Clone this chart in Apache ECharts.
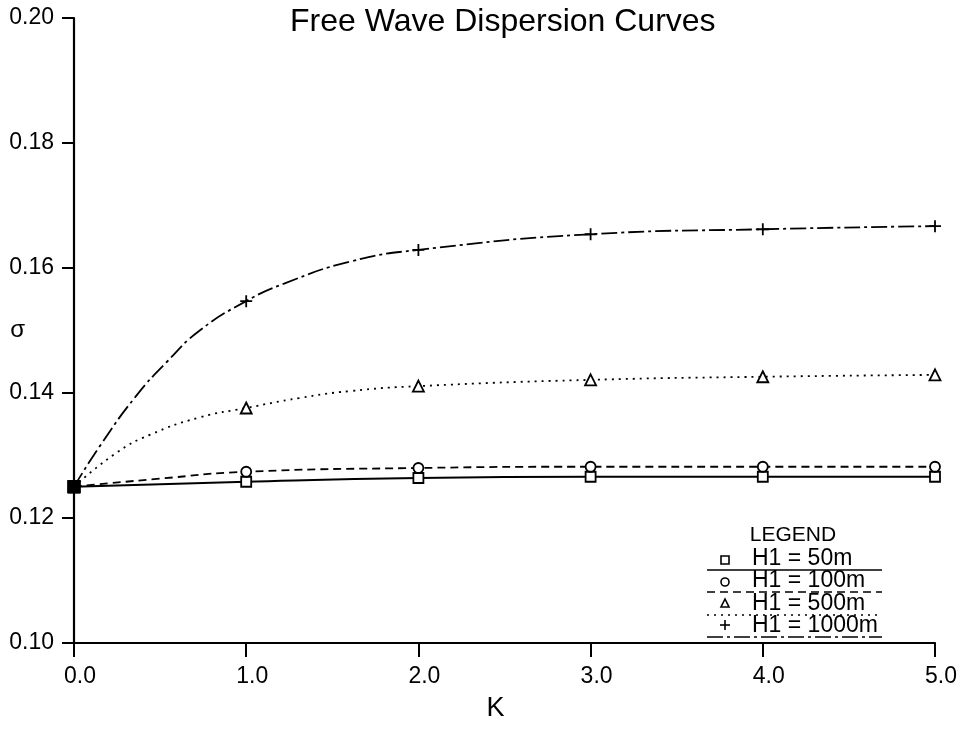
<!DOCTYPE html>
<html>
<head>
<meta charset="utf-8">
<script src="https://cdn.jsdelivr.net/npm/echarts@6/dist/echarts.min.js"></script>
<style>
html,body{margin:0;padding:0;background:#fff;}
#chart{width:967px;height:730px;}
</style>
</head>
<body>
<div id="chart"></div>
<script>
// ---- data ----
// points with an integer K carry a marker; the others are curve positions
var k50    = [0, 1, 2, 3, 4, 5];
var s50    = [0.1250, 0.1258, 0.1264, 0.1266, 0.1266, 0.1266];
var k100   = [0, 0.5, 1, 2, 3, 4, 5];
var s100   = [0.1250, 0.1263, 0.1274, 0.1280, 0.1282, 0.1282, 0.1282];
var k500   = [0, 0.25, 0.44, 0.73, 1, 1.31, 1.60, 2, 3, 4, 5];
var s500   = [0.1250, 0.1305, 0.1333, 0.1361, 0.1376, 0.1392, 0.1403, 0.1411, 0.1421, 0.1426, 0.1429];
var k1000  = [0, 0.15, 0.36, 0.54, 0.73, 1, 1.22, 1.60, 2, 3, 4, 5];
var s1000  = [0.1250, 0.1315, 0.1395, 0.1450, 0.1500, 0.1547, 0.1575, 0.1610, 0.1629, 0.1654, 0.1662, 0.1667];
var seriesNames = ['H1 = 50m', 'H1 = 100m', 'H1 = 500m', 'H1 = 1000m'];
var xTickLabels = ['0.0', '1.0', '2.0', '3.0', '4.0', '5.0'];
var yTickLabels = ['0.10', '0.12', '0.14', '0.16', '0.18', '0.20'];

var FONT = 'Liberation Sans';
var plusPath = 'path://M5,0L5,10M0,5L10,5';
var symbols = ['rect', 'circle', 'triangle', plusPath];
var dashes = ['solid', [8, 5], [2, 5], [16, 4, 3, 4]];
var kList = [k50, k100, k500, k1000];
var sList = [s50, s100, s500, s1000];

function buildData(ks, vals) {
  return ks.map(function (k, i) {
    if (k === 0) {
      return { value: [k, vals[i]], symbol: 'rect', symbolSize: 11, itemStyle: { color: '#000' } };
    }
    if (k !== Math.round(k)) {
      return { value: [k, vals[i]], symbol: 'none' };
    }
    return [k, vals[i]];
  });
}

var series = sList.map(function (vals, s) {
  return {
    name: seriesNames[s],
    type: 'line',
    smooth: 0.5,
    data: buildData(kList[s], vals),
    symbol: symbols[s],
    symbolSize: s === 2 ? 11 : (s === 3 ? 12 : 10),
    showAllSymbol: true,
    lineStyle: { color: '#000', width: 1.8, type: dashes[s] },
    itemStyle: { color: '#fff', borderColor: '#000', borderWidth: 1.8 },
    z: 3 + s,
    animation: false
  };
});

// legend drawn as graphics (text with underline in the series' line style)
var lg = [];
lg.push({ type: 'text', style: { x: 793, y: 535, text: 'LEGEND', font: '21px "' + FONT + '"', fill: '#000', textAlign: 'center', textVerticalAlign: 'middle' } });
var rowY = [560, 582, 603, 625];
var lineY = [570, 592, 615, 637];
for (var r = 0; r < 4; r++) {
  var sy = rowY[r];
  if (r === 0) lg.push({ type: 'rect', shape: { x: 721, y: sy - 4, width: 8, height: 8 }, style: { fill: '#fff', stroke: '#000', lineWidth: 1.6 } });
  if (r === 1) lg.push({ type: 'circle', shape: { cx: 725, cy: sy, r: 4 }, style: { fill: '#fff', stroke: '#000', lineWidth: 1.6 } });
  if (r === 2) lg.push({ type: 'polygon', shape: { points: [[725, sy - 4], [721, sy + 4], [729, sy + 4]] }, style: { fill: '#fff', stroke: '#000', lineWidth: 1.6 } });
  if (r === 3) {
    lg.push({ type: 'line', shape: { x1: 720, y1: sy, x2: 730, y2: sy }, style: { stroke: '#000', lineWidth: 1.6 } });
    lg.push({ type: 'line', shape: { x1: 725, y1: sy - 5, x2: 725, y2: sy + 5 }, style: { stroke: '#000', lineWidth: 1.6 } });
  }
  lg.push({ type: 'text', style: { x: 752, y: lineY[r] - 11, text: seriesNames[r], font: '23px "' + FONT + '"', fill: '#000', textAlign: 'left', textVerticalAlign: 'middle' } });
  lg.push({ type: 'line', shape: { x1: 707, y1: lineY[r], x2: 882, y2: lineY[r] },
    style: { stroke: '#000', lineWidth: 1.6, lineDash: dashes[r] === 'solid' ? null : dashes[r] } });
}

var chart = echarts.init(document.getElementById('chart'), null, { renderer: 'canvas' });
chart.setOption({
  backgroundColor: '#fff',
  animation: false,
  title: {
    text: 'Free Wave Dispersion Curves',
    left: 285, top: 1,
    textStyle: { fontFamily: FONT, fontSize: 32, fontWeight: 'normal', color: '#000' }
  },
  grid: { left: 74, right: 32, top: 18, bottom: 87, containLabel: false, outerBoundsMode: 'none' },
  xAxis: {
    type: 'value', min: 0, max: 5, interval: 1,
    name: 'K', nameLocation: 'middle', nameGap: 52,
    nameTextStyle: { fontFamily: FONT, fontSize: 27, color: '#000', padding: [0, 18, 0, 0] },
    axisLine: { show: true, onZero: false, lineStyle: { color: '#000', width: 2.2 } },
    axisTick: { show: true, inside: false, length: 14, lineStyle: { color: '#000', width: 2 } },
    axisLabel: {
      margin: 22, color: '#000', fontFamily: FONT, fontSize: 23, padding: [0, 0, 0, 12],
      formatter: function (v) { return xTickLabels[Math.round(v)]; }
    },
    splitLine: { show: false }
  },
  yAxis: {
    type: 'value', min: 0.10, max: 0.20, interval: 0.02,
    name: 'σ', nameLocation: 'middle', nameGap: 49, nameRotate: 0, nameMoveOverlap: false,
    nameTextStyle: { fontFamily: FONT, fontSize: 24, color: '#000', padding: [20, 0, 0, 0] },
    axisLine: { show: true, onZero: false, lineStyle: { color: '#000', width: 2.2 } },
    axisTick: { show: true, inside: false, length: 12, lineStyle: { color: '#000', width: 2 } },
    axisLabel: {
      margin: 20, color: '#000', fontFamily: FONT, fontSize: 23,
      formatter: function (v) { return yTickLabels[Math.round((v - 0.10) / 0.02)]; }
    },
    splitLine: { show: false }
  },
  graphic: lg,
  series: series
});
</script>
</body>
</html>
